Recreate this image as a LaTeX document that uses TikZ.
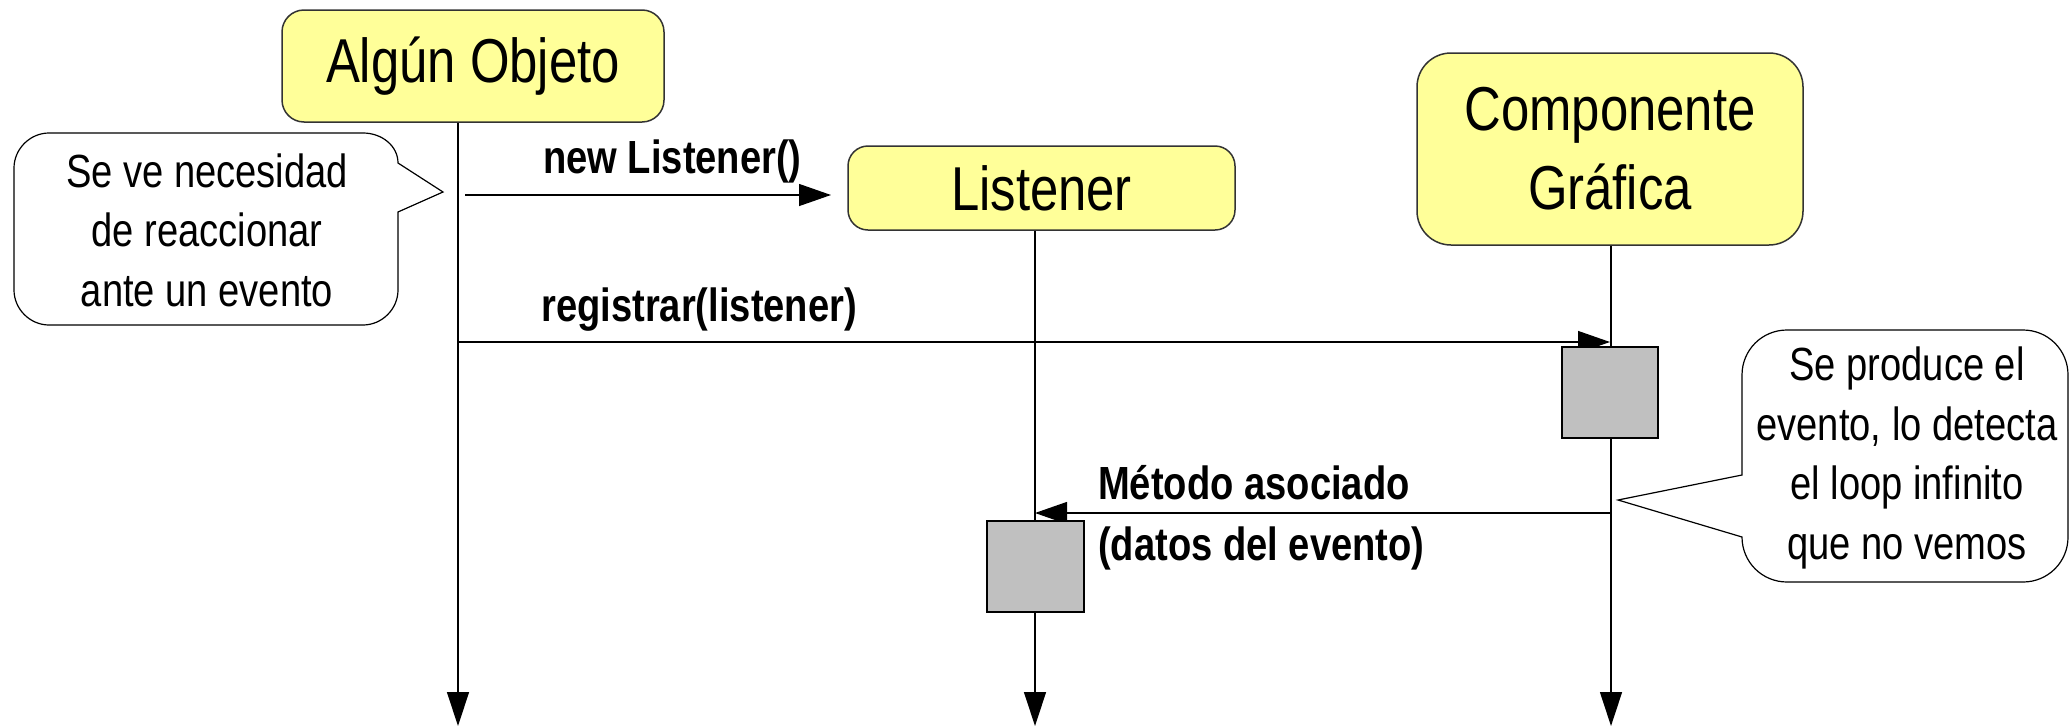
\documentclass[tikz,border=0pt]{standalone}
\usepackage{fontspec}
\setmainfont{Liberation Sans}[FakeStretch=0.82]
\usetikzlibrary{arrows.meta}
\definecolor{objyellow}{HTML}{FFFF99}
\definecolor{actgray}{HTML}{C0C0C0}
\begin{document}
\begin{tikzpicture}[x=1pt,y=-1pt,
  objbox/.style={draw=black!80, line width=1.5pt, fill=objyellow, inner sep=0pt,
    font=\fontsize{62}{79}\selectfont, align=center},
  actbox/.style={draw=black, line width=1.5pt, fill=actgray, inner sep=0pt},
  lifeline/.style={draw=black, line width=1.3pt, -{Triangle[length=34pt,width=22pt]}},
  msg/.style={draw=black, line width=1.3pt, -{Triangle[length=32pt,width=22pt]}},
  msglabel/.style={font=\bfseries\fontsize{46.5}{58}\selectfont, anchor=base west, inner sep=0pt},
  callout/.style={draw=black, line width=1.2pt, fill=white},
  callouttext/.style={font=\fontsize{46.5}{59.5}\selectfont, align=center, inner sep=0pt}]
\useasboundingbox (0,0) rectangle (2071,726);

% objects
\node[objbox, rounded corners=22pt, minimum width=382pt, minimum height=112pt] (obj) at (473,66) {Algún Objeto};
\node[objbox, rounded corners=20pt, minimum width=387pt, minimum height=84pt] (lis) at (1041.5,188) {Listener};
\node[objbox, rounded corners=34pt, minimum width=386pt, minimum height=192pt] (comp) at (1610,149) {Componente\\Gráfica};

% lifeline ends
\coordinate (objend) at (458,726);
\coordinate (lisend) at (1035,726);
\coordinate (compend) at (1611,726);

\draw[lifeline] (obj.south -| objend) -- (objend);
\draw[lifeline] (lis.south -| lisend) -- (lisend);
\draw[lifeline] (comp.south -| compend) -- (compend);

% messages
\coordinate (m1s) at (465,195);
\coordinate (m1e) at (831,195);
\draw[msg] (m1s) -- (m1e);
\node[msglabel] (m1l) at (543,173) {new Listener()};

\coordinate (m2s) at (458,342);
\coordinate (m2e) at (1610,342);
\draw[msg] (m2s) -- (m2e);
\node[msglabel] (m2l) at (541,321) {registrar(listener)};

\coordinate (m3s) at (1611,513);
\coordinate (m3e) at (1035,513);
\draw[msg] (m3s) -- (m3e);
\node[msglabel] (m3l) at (1098,499) {Método asociado};
\node[msglabel] (m3m) at (1098,560) {(datos del evento)};

% activation boxes
\node[actbox, minimum width=96pt, minimum height=91pt] (act1) at (1610,392.5) {};
\node[actbox, minimum width=97pt, minimum height=91pt] (act2) at (1035.5,566.5) {};

% left callout
\path[callout] (14,168) .. controls (14,149) and (30,133) .. (49,133) -- (363,133)
  .. controls (382,133) and (398,146) .. (398,163) -- (443,192) -- (398,212) -- (398,290)
  .. controls (398,309) and (382,325) .. (363,325) -- (49,325)
  .. controls (30,325) and (14,309) .. (14,290) -- cycle;
\node[callouttext] (c1) at (207,230) {Se ve necesidad\\de reaccionar\\ante un evento};

% right callout
\path[callout] (1742,375) .. controls (1742,350) and (1762,330) .. (1787,330) -- (2023,330)
  .. controls (2048,330) and (2068,350) .. (2068,375) -- (2068,537)
  .. controls (2068,562) and (2048,582) .. (2023,582) -- (1787,582)
  .. controls (1762,582) and (1742,562) .. (1742,537) -- (1618,500) -- (1742,475) -- cycle;
\node[callouttext] (c2) at (1907,458) {Se produce el\\evento, lo detecta\\el loop infinito\\que no vemos};
\end{tikzpicture}
\end{document}
